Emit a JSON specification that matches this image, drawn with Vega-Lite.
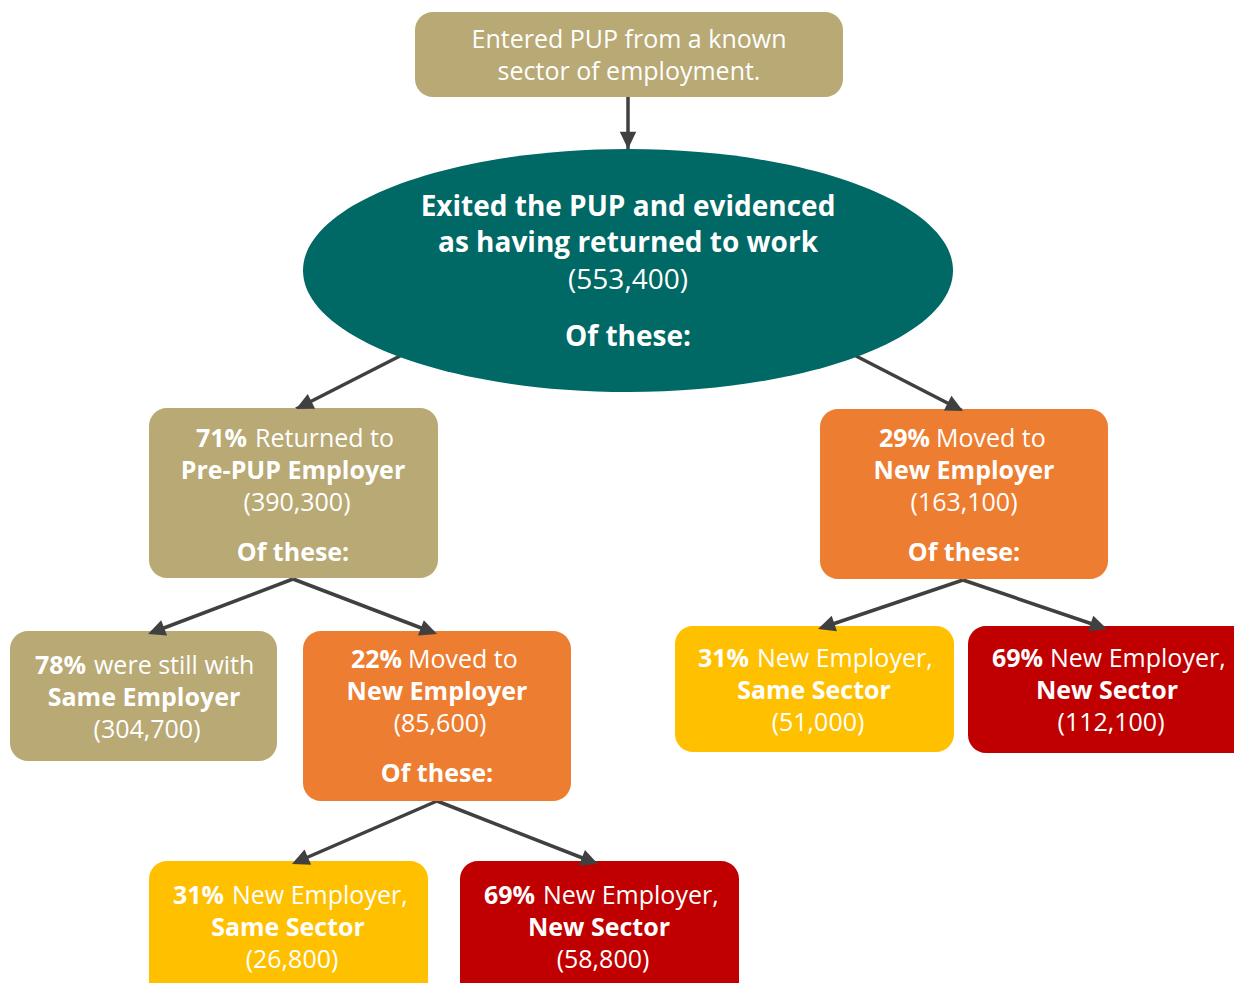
{
  "$schema": "https://vega.github.io/schema/vega-lite/v6.json",
  "width": 1234,
  "height": 983,
  "autosize": {"type": "fit", "contains": "padding"},
  "padding": 0,
  "background": "white",
  "config": {"view": {"stroke": null}},
  "datasets": {
    "boxes": [
      {"node": "entered", "kind": "tan", "x1": 415, "x2": 843, "y1": 12, "y2": 97},
      {"node": "pre-pup", "kind": "tan", "x1": 149, "x2": 438, "y1": 408, "y2": 578},
      {"node": "moved", "kind": "orange", "x1": 820, "x2": 1108, "y1": 409, "y2": 579},
      {"node": "same employer", "kind": "tan", "x1": 10, "x2": 277, "y1": 631, "y2": 761},
      {"node": "moved later", "kind": "orange", "x1": 303, "x2": 571, "y1": 631, "y2": 801},
      {"node": "same sector", "kind": "yellow", "x1": 675, "x2": 954, "y1": 626, "y2": 752},
      {"node": "new sector", "kind": "red", "x1": 968, "x2": 1250, "y1": 626, "y2": 753},
      {"node": "same sector later", "kind": "yellow", "x1": 149, "x2": 428, "y1": 861, "y2": 1010},
      {"node": "new sector later", "kind": "red", "x1": 460, "x2": 739, "y1": 861, "y2": 1010}
    ],
    "ellipse": [{"node": "exited", "x": 628, "y": 270.5}],
    "arrows": [
      {"x1": 628, "y1": 97, "x2": 628, "y2": 149, "angle": 180},
      {"x1": 400, "y1": 356, "x2": 296, "y2": 409, "angle": 243.4},
      {"x1": 856, "y1": 356, "x2": 963, "y2": 411, "angle": 117.2},
      {"x1": 293, "y1": 579, "x2": 148, "y2": 634, "angle": 249.2},
      {"x1": 293, "y1": 579, "x2": 437, "y2": 634, "angle": 110.9},
      {"x1": 963, "y1": 580, "x2": 818, "y2": 629, "angle": 251.3},
      {"x1": 963, "y1": 580, "x2": 1107, "y2": 629, "angle": 108.8},
      {"x1": 437, "y1": 801, "x2": 292, "y2": 864, "angle": 246.5},
      {"x1": 437, "y1": 801, "x2": 598, "y2": 864, "angle": 111.4}
    ],
    "texts": [
      {"group": "box", "part": "full", "weight": "regular", "x": 629, "y": 40, "text": "Entered PUP from a known"},
      {"group": "box", "part": "full", "weight": "regular", "x": 629, "y": 72, "text": "sector of employment."},

      {"group": "ellipse", "part": "full", "weight": "bold", "x": 628, "y": 208, "text": "Exited the PUP and evidenced"},
      {"group": "ellipse", "part": "full", "weight": "bold", "x": 628, "y": 244, "text": "as having returned to work"},
      {"group": "ellipse", "part": "full", "weight": "regular", "x": 628, "y": 281, "text": "(553,400)"},
      {"group": "ellipse", "part": "full", "weight": "bold", "x": 628, "y": 338, "text": "Of these:"},

      {"group": "box", "part": "lead", "weight": "bold", "x": 247, "y": 439, "text": "71%"},
      {"group": "box", "part": "rest", "weight": "regular", "x": 255, "y": 439, "text": "Returned to"},
      {"group": "box", "part": "full", "weight": "bold", "x": 293, "y": 471, "text": "Pre-PUP Employer"},
      {"group": "box", "part": "full", "weight": "regular", "x": 297, "y": 503, "text": "(390,300)"},
      {"group": "box", "part": "full", "weight": "bold", "x": 293, "y": 553, "text": "Of these:"},

      {"group": "box", "part": "lead", "weight": "bold", "x": 930, "y": 439, "text": "29%"},
      {"group": "box", "part": "rest", "weight": "regular", "x": 936, "y": 439, "text": "Moved to"},
      {"group": "box", "part": "full", "weight": "bold", "x": 964, "y": 471, "text": "New Employer"},
      {"group": "box", "part": "full", "weight": "regular", "x": 964, "y": 503, "text": "(163,100)"},
      {"group": "box", "part": "full", "weight": "bold", "x": 964, "y": 553, "text": "Of these:"},

      {"group": "box", "part": "lead", "weight": "bold", "x": 86, "y": 666, "text": "78%"},
      {"group": "box", "part": "rest", "weight": "regular", "x": 94, "y": 666, "text": "were still with"},
      {"group": "box", "part": "full", "weight": "bold", "x": 144, "y": 698, "text": "Same Employer"},
      {"group": "box", "part": "full", "weight": "regular", "x": 147, "y": 730, "text": "(304,700)"},

      {"group": "box", "part": "lead", "weight": "bold", "x": 402, "y": 660, "text": "22%"},
      {"group": "box", "part": "rest", "weight": "regular", "x": 408, "y": 660, "text": "Moved to"},
      {"group": "box", "part": "full", "weight": "bold", "x": 437, "y": 692, "text": "New Employer"},
      {"group": "box", "part": "full", "weight": "regular", "x": 440, "y": 724, "text": "(85,600)"},
      {"group": "box", "part": "full", "weight": "bold", "x": 437, "y": 774, "text": "Of these:"},

      {"group": "box", "part": "lead", "weight": "bold", "x": 749, "y": 659, "text": "31%"},
      {"group": "box", "part": "rest", "weight": "regular", "x": 757, "y": 659, "text": "New Employer,"},
      {"group": "box", "part": "full", "weight": "bold", "x": 814, "y": 691, "text": "Same Sector"},
      {"group": "box", "part": "full", "weight": "regular", "x": 818, "y": 723, "text": "(51,000)"},

      {"group": "box", "part": "lead", "weight": "bold", "x": 1043, "y": 659, "text": "69%"},
      {"group": "box", "part": "rest", "weight": "regular", "x": 1050, "y": 659, "text": "New Employer,"},
      {"group": "box", "part": "full", "weight": "bold", "x": 1107, "y": 691, "text": "New Sector"},
      {"group": "box", "part": "full", "weight": "regular", "x": 1111, "y": 723, "text": "(112,100)"},

      {"group": "box", "part": "lead", "weight": "bold", "x": 224, "y": 896, "text": "31%"},
      {"group": "box", "part": "rest", "weight": "regular", "x": 232, "y": 896, "text": "New Employer,"},
      {"group": "box", "part": "full", "weight": "bold", "x": 288, "y": 928, "text": "Same Sector"},
      {"group": "box", "part": "full", "weight": "regular", "x": 292, "y": 960, "text": "(26,800)"},

      {"group": "box", "part": "lead", "weight": "bold", "x": 535, "y": 896, "text": "69%"},
      {"group": "box", "part": "rest", "weight": "regular", "x": 543, "y": 896, "text": "New Employer,"},
      {"group": "box", "part": "full", "weight": "bold", "x": 599, "y": 928, "text": "New Sector"},
      {"group": "box", "part": "full", "weight": "regular", "x": 603, "y": 960, "text": "(58,800)"}
    ]
  },
  "layer": [
    {
      "data": {"name": "arrows"},
      "mark": {"type": "rule", "color": "#404040", "strokeWidth": 3.5},
      "encoding": {
        "x": {"field": "x1", "type": "quantitative", "scale": {"domain": [0, 1234], "nice": false, "zero": false}, "axis": null},
        "y": {"field": "y1", "type": "quantitative", "scale": {"domain": [0, 983], "nice": false, "zero": false, "reverse": true}, "axis": null},
        "x2": {"field": "x2"},
        "y2": {"field": "y2"}
      }
    },
    {
      "data": {"name": "boxes"},
      "mark": {"type": "rect", "cornerRadius": 18, "clip": true},
      "encoding": {
        "x": {"field": "x1", "type": "quantitative", "scale": {"domain": [0, 1234], "nice": false, "zero": false}, "axis": null},
        "x2": {"field": "x2"},
        "y": {"field": "y1", "type": "quantitative", "scale": {"domain": [0, 983], "nice": false, "zero": false, "reverse": true}, "axis": null},
        "y2": {"field": "y2"},
        "color": {"field": "kind", "type": "nominal", "scale": {"domain": ["tan", "orange", "yellow", "red", "teal"], "range": ["#B8A975", "#ED7D31", "#FFC000", "#C00000", "#006865"]}, "legend": null}
      }
    },
    {
      "data": {"name": "ellipse"},
      "mark": {"type": "point", "filled": true, "opacity": 1, "shape": "M-1,0A1,0.3738,0,1,1,1,0A1,0.3738,0,1,1,-1,0Z", "size": 422500, "color": "#006865"},
      "encoding": {
        "x": {"field": "x", "type": "quantitative", "scale": {"domain": [0, 1234], "nice": false, "zero": false}, "axis": null},
        "y": {"field": "y", "type": "quantitative", "scale": {"domain": [0, 983], "nice": false, "zero": false, "reverse": true}, "axis": null}
      }
    },
    {
      "data": {"name": "arrows"},
      "mark": {"type": "point", "filled": true, "opacity": 1, "shape": "M0,0L0.55,1.15L-0.55,1.15Z", "size": 900, "color": "#404040"},
      "encoding": {
        "x": {"field": "x2", "type": "quantitative", "scale": {"domain": [0, 1234], "nice": false, "zero": false}, "axis": null},
        "y": {"field": "y2", "type": "quantitative", "scale": {"domain": [0, 983], "nice": false, "zero": false, "reverse": true}, "axis": null},
        "angle": {"field": "angle", "type": "quantitative", "scale": null}
      }
    },
    {
      "data": {"name": "texts"},
      "transform": [{"filter": "datum.group == 'ellipse' && datum.weight == 'bold'"}],
      "mark": {"type": "text", "font": "Open Sans", "fontSize": 28, "fontWeight": "bold", "color": "white", "align": "center", "baseline": "middle"},
      "encoding": {
        "x": {"field": "x", "type": "quantitative", "axis": null},
        "y": {"field": "y", "type": "quantitative", "axis": null},
        "text": {"field": "text"}
      }
    },
    {
      "data": {"name": "texts"},
      "transform": [{"filter": "datum.group == 'ellipse' && datum.weight == 'regular'"}],
      "mark": {"type": "text", "font": "Open Sans", "fontSize": 28, "fontWeight": "normal", "color": "white", "align": "center", "baseline": "middle"},
      "encoding": {
        "x": {"field": "x", "type": "quantitative", "axis": null},
        "y": {"field": "y", "type": "quantitative", "axis": null},
        "text": {"field": "text"}
      }
    },
    {
      "data": {"name": "texts"},
      "transform": [{"filter": "datum.group == 'box' && datum.part == 'full' && datum.weight == 'bold'"}],
      "mark": {"type": "text", "font": "Open Sans", "fontSize": 25, "fontWeight": "bold", "color": "white", "align": "center", "baseline": "middle"},
      "encoding": {
        "x": {"field": "x", "type": "quantitative", "axis": null},
        "y": {"field": "y", "type": "quantitative", "axis": null},
        "text": {"field": "text"}
      }
    },
    {
      "data": {"name": "texts"},
      "transform": [{"filter": "datum.group == 'box' && datum.part == 'full' && datum.weight == 'regular'"}],
      "mark": {"type": "text", "font": "Open Sans", "fontSize": 25, "fontWeight": "normal", "color": "white", "align": "center", "baseline": "middle"},
      "encoding": {
        "x": {"field": "x", "type": "quantitative", "axis": null},
        "y": {"field": "y", "type": "quantitative", "axis": null},
        "text": {"field": "text"}
      }
    },
    {
      "data": {"name": "texts"},
      "transform": [{"filter": "datum.part == 'lead'"}],
      "mark": {"type": "text", "font": "Open Sans", "fontSize": 25, "fontWeight": "bold", "color": "white", "align": "right", "baseline": "middle"},
      "encoding": {
        "x": {"field": "x", "type": "quantitative", "axis": null},
        "y": {"field": "y", "type": "quantitative", "axis": null},
        "text": {"field": "text"}
      }
    },
    {
      "data": {"name": "texts"},
      "transform": [{"filter": "datum.part == 'rest'"}],
      "mark": {"type": "text", "font": "Open Sans", "fontSize": 25, "fontWeight": "normal", "color": "white", "align": "left", "baseline": "middle"},
      "encoding": {
        "x": {"field": "x", "type": "quantitative", "axis": null},
        "y": {"field": "y", "type": "quantitative", "axis": null},
        "text": {"field": "text"}
      }
    }
  ]
}
